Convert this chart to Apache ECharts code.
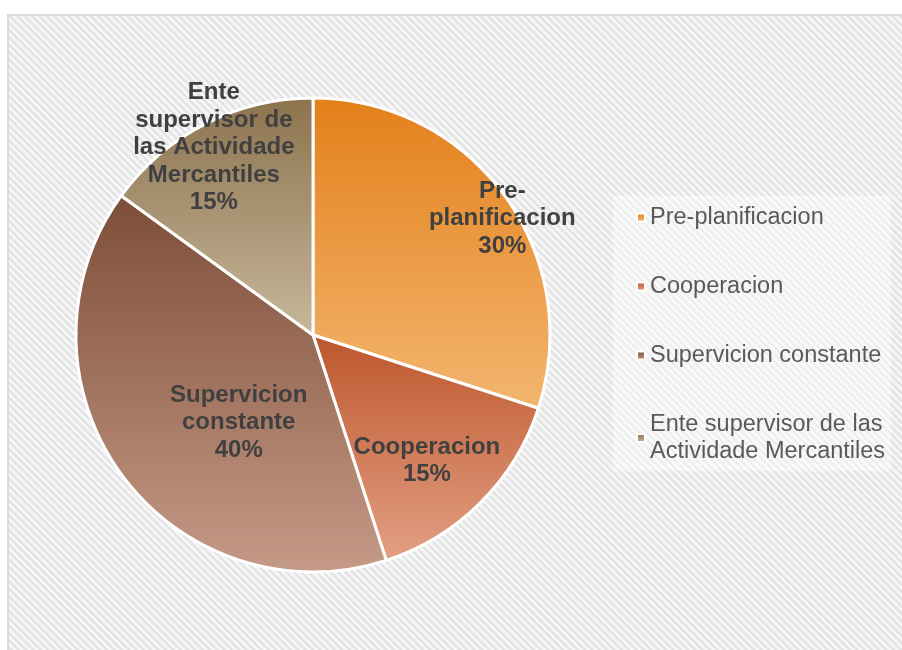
<!DOCTYPE html>
<html>
<head>
<meta charset="utf-8">
<script src="https://cdn.jsdelivr.net/npm/echarts@6/dist/echarts.min.js"></script>
<style>
  html, body { margin: 0; padding: 0; background: #ffffff; }
  /* fondo rayado del area del grafico */
  #frame {
    position: absolute;
    left: 7px; top: 14px;
    width: 902px; height: 650px;
    border: 2px solid #d9d9d9;
    background: repeating-linear-gradient(45deg, #fcfcfc 0px, #dfdfdf 2.6px, #fcfcfc 5.2px);
  }
  #chart { position: absolute; left: 0; top: 0; width: 902px; height: 650px; }
</style>
</head>
<body>
<div id="frame"></div>
<div id="chart"></div>
<script>
// datos
var categories = ['Pre-planificacion', 'Cooperacion', 'Supervicion constante', 'Ente supervisor de las Actividade Mercantiles']
var values = [30, 15, 40, 15]
// texto de etiquetas (con saltos de linea como en la imagen)
var labelNames = ['Pre-\nplanificacion', 'Cooperacion', 'Supervicion\nconstante', 'Ente\nsupervisor de\nlas Actividade\nMercantiles']
var legendNames = {
  'Ente supervisor de las Actividade Mercantiles': 'Ente supervisor de las\nActividade Mercantiles'
}

// estilos: degradado vertical por sector (arriba oscuro, abajo claro)
var gradients = [
  ['#e3801a', '#f3b670'],
  ['#bd562c', '#e3a084'],
  ['#7d4d38', '#c59a86'],
  ['#8c734e', '#c7b89b']
]
// desplazamiento de etiquetas respecto a la posicion 'inside'
var labelOffsets = [[91, -45], [28, 40], [24, 16], [-44, -79]]

var seriesData = categories.map(function (name, i) {
  return {
    name: name,
    value: values[i],
    itemStyle: {
      color: new echarts.graphic.LinearGradient(0, 0, 0, 1, [
        { offset: 0, color: gradients[i][0] },
        { offset: 1, color: gradients[i][1] }
      ])
    },
    label: {
      offset: labelOffsets[i],
      formatter: labelNames[i] + '\n{d}%'
    }
  }
})

var myChart = echarts.init(document.getElementById('chart'))
myChart.setOption({
  backgroundColor: 'transparent',
  animation: false,
  legend: {
    orient: 'vertical',
    left: 613,
    top: 196,
    padding: [8, 6, 6, 23],
    backgroundColor: 'rgba(255,255,255,0.4)',
    itemWidth: 8,
    itemHeight: 8,
    itemGap: 42,
    icon: 'rect',
    formatter: function (name) { return legendNames[name] || name },
    textStyle: {
      fontFamily: '"Liberation Sans", Arial, sans-serif',
      fontSize: 23.5,
      lineHeight: 27,
      color: '#595959'
    },
    data: categories
  },
  series: [{
    type: 'pie',
    center: [313, 335],
    radius: 237,
    startAngle: 90,
    clockwise: true,
    itemStyle: { borderColor: '#ffffff', borderWidth: 3 },
    label: {
      show: true,
      position: 'inside',
      fontFamily: '"Liberation Sans", Arial, sans-serif',
      fontSize: 24,
      fontWeight: 'bold',
      lineHeight: 27.5,
      color: '#404040',
      align: 'center'
    },
    labelLine: { show: false },
    emphasis: { disabled: true },
    data: seriesData
  }]
})
</script>
</body>
</html>
